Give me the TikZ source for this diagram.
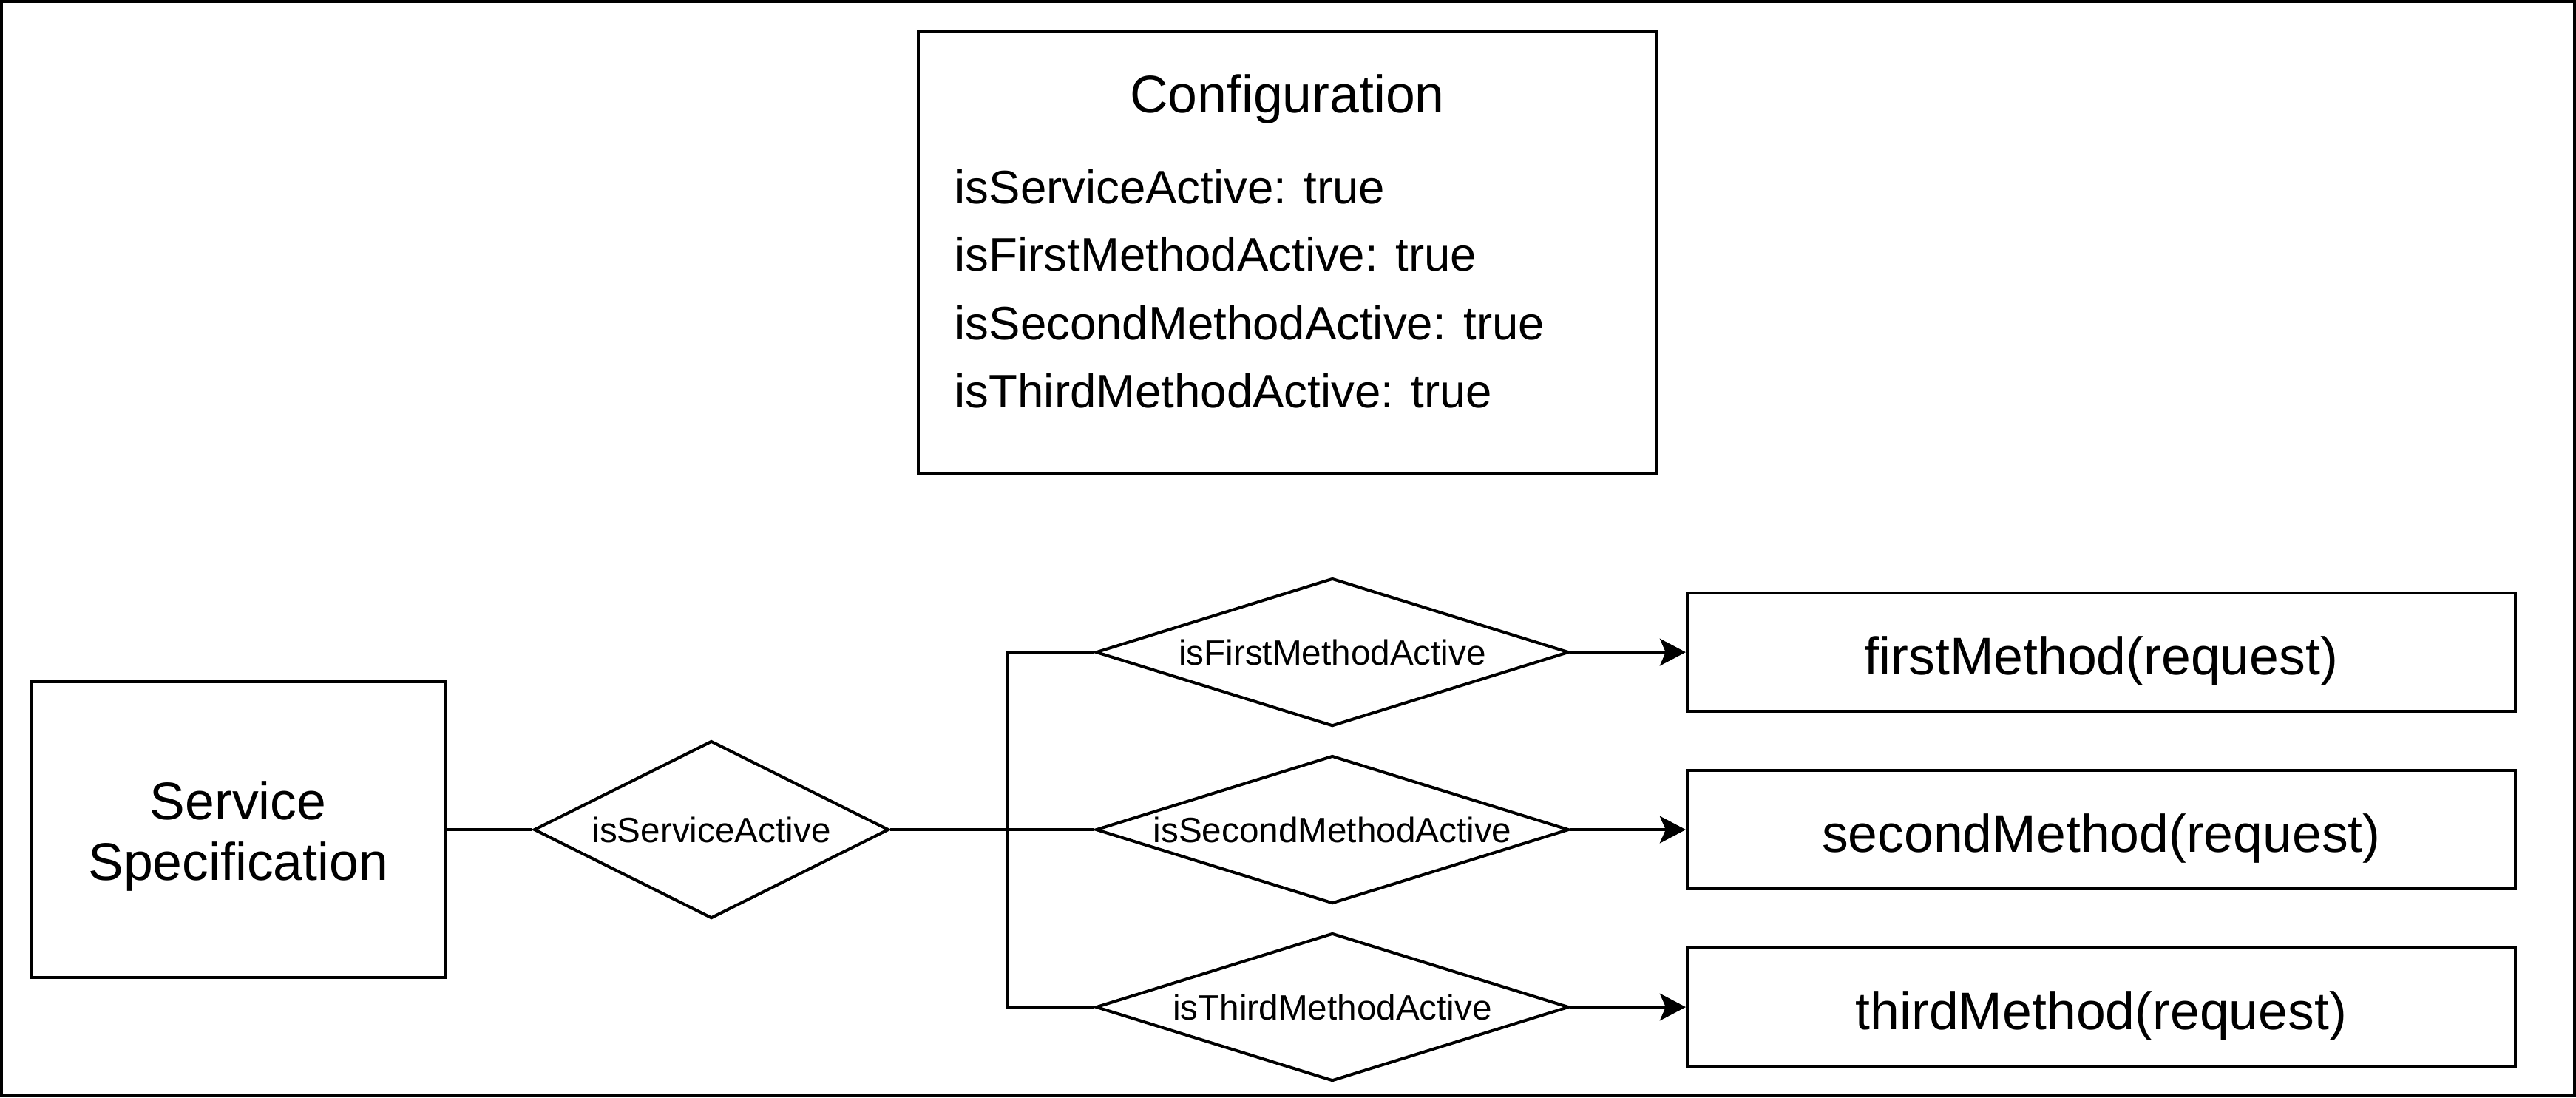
\documentclass[tikz,border=0pt]{standalone}
\usepackage{fontspec}
\setmainfont{Liberation Sans}
\usetikzlibrary{shapes.geometric,arrows.meta}
\newcommand\fBig{\fontsize{32.2}{37}\selectfont}
\newcommand\fCfg{\fontsize{28.6}{41}\selectfont}
\newcommand\fDia{\fontsize{21.45}{25}\selectfont}
\begin{document}
\begin{tikzpicture}[x=1pt,y=-1pt,line width=1.8pt,
  box/.style={draw,rectangle,inner sep=0pt},
  methodbox/.style={box,minimum width=504pt,minimum height=72pt,font=\fBig,text height=27pt,text depth=0pt},
  cond/.style={draw,diamond,inner sep=0pt,font=\fDia,text height=15.4pt,text depth=0pt},
  lbl/.style={inner sep=0pt,anchor=base},
  cfgline/.style={inner sep=0pt,anchor=base west,font=\fCfg},
  conn/.style={line width=1.8pt},
  arr/.style={conn,-{Stealth[length=15.8pt,width=16.5pt,inset=3.6pt]}}]
\useasboundingbox (0,0) rectangle (1568,667.9);
\draw (0.9,0.9) rectangle (1567.1,667);

% Configuration box
\node[box,minimum width=449pt,minimum height=269pt] (cfg) at (783.5,153.5) {};
\node[lbl,font=\fBig] (cfgtitle) at (783.5,68.7) {Configuration};
\node[cfgline] (cfg1) at (580.5,123.8) {isServiceActive: true};
\node[cfgline] (cfg2) at (580.5,165.1) {isFirstMethodActive: true};
\node[cfgline] (cfg3) at (580.5,206.6) {isSecondMethodActive: true};
\node[cfgline] (cfg4) at (580.5,248) {isThirdMethodActive: true};

% Service specification
\node[box,minimum width=252pt,minimum height=180pt] (ss) at (145,505) {};
\node[lbl,font=\fBig] (ssl1) at (145,499) {Service};
\node[lbl,font=\fBig] (ssl2) at (145,536) {Specification};

% Diamonds
\node[cond,aspect=2,minimum width=216pt,minimum height=108pt] (d0) at (433,505) {isServiceActive};
\node[cond,aspect=3.2,minimum width=288pt,minimum height=90pt] (d1) at (811,397) {isFirstMethodActive};
\node[cond,aspect=3.2,minimum width=288pt,minimum height=90pt] (d2) at (811,505) {isSecondMethodActive};
\node[cond,aspect=3.2,minimum width=288pt,minimum height=90pt] (d3) at (811,613) {isThirdMethodActive};

% Method boxes
\node[methodbox] (m1) at (1279,397) {firstMethod(request)};
\node[methodbox] (m2) at (1279,505) {secondMethod(request)};
\node[methodbox] (m3) at (1279,613) {thirdMethod(request)};

\coordinate (j) at (613,505);

% Connectors
\draw[conn] (ss.east) -- (d0.west);
\draw[conn] (d0.east) -- (d2.west);
\draw[conn] (d1.west) -| (j) |- (d3.west);
\draw[arr] (d1.east) -- (m1.west);
\draw[arr] (d2.east) -- (m2.west);
\draw[arr] (d3.east) -- (m3.west);
\end{tikzpicture}
\end{document}
